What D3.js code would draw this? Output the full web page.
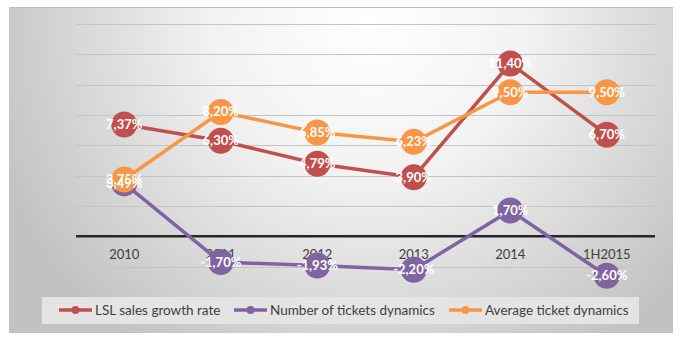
<!DOCTYPE html>
<html>
<head>
<meta charset="utf-8">
<script src="https://cdn.jsdelivr.net/npm/d3@7"></script>
<style>
  body { margin: 0; background: #fff; }
  text { font-family: Lato, "Open Sans", sans-serif; }
</style>
</head>
<body>
<script>
let width = 696,
    height = 350;

let categories = ["2010", "2011", "2012", "2013", "2014", "1H2015"];
let lslSales = [7.37, 6.30, 4.79, 3.90, 11.40, 6.70];
let ticketsCount = [3.49, -1.70, -1.93, -2.20, 1.70, -2.60];
let avgTicket = [3.75, 8.20, 6.85, 6.23, 9.50, 9.50];
let yTicks = [-4, -2, 0, 2, 4, 6, 8, 10, 12, 14];

let series = [
  { name: "LSL sales growth rate", values: lslSales, color: "#c0504d" },
  { name: "Number of tickets dynamics", values: ticketsCount, color: "#8064a2" },
  { name: "Average ticket dynamics", values: avgTicket, color: "#f79646" }
];

let svg = d3.select("body")
    .append("svg")
    .attr("width", width)
    .attr("height", height);

// background gradient
let defs = svg.append("defs");
let grad = defs.append("radialGradient")
    .attr("id", "bg")
    .attr("gradientUnits", "userSpaceOnUse")
    .attr("cx", 370).attr("cy", 20)
    .attr("r", 400);
grad.append("stop").attr("offset", "0%").attr("stop-color", "#ffffff");
grad.append("stop").attr("offset", "40%").attr("stop-color", "#f2f2f2");
grad.append("stop").attr("offset", "100%").attr("stop-color", "#c2c2c2");

svg.append("rect")
    .attr("x", 9).attr("y", 7)
    .attr("width", 664).attr("height", 326)
    .attr("fill", "url(#bg)");
svg.append("line")
    .attr("x1", 9).attr("x2", 673)
    .attr("y1", 7.5).attr("y2", 7.5)
    .attr("stroke", "#bfbfbf");

let x = d3.scaleBand()
    .domain(categories)
    .range([76, 655]);

let y = d3.scaleLinear()
    .domain([-4, 14])
    .range([297, 24]);

// gridlines
svg.append("g")
    .selectAll("line")
    .data(yTicks.filter(d => d !== 0))
    .enter()
    .append("line")
    .attr("x1", 76).attr("x2", 655)
    .attr("y1", d => Math.round(y(d)) + 0.5)
    .attr("y2", d => Math.round(y(d)) + 0.5)
    .attr("stroke", "#c4c4c4")
    .attr("stroke-width", 1);

// zero axis
svg.append("line")
    .attr("x1", 76).attr("x2", 655)
    .attr("y1", y(0)).attr("y2", y(0))
    .attr("stroke", "#262626")
    .attr("stroke-width", 2.5);

// category labels
svg.append("g")
    .selectAll("text")
    .data(categories)
    .enter()
    .append("text")
    .attr("x", d => x(d) + x.bandwidth() / 2)
    .attr("y", y(0) + 23)
    .attr("text-anchor", "middle")
    .style("font-size", "13px")
    .attr("fill", "#404040")
    .text(d => d);

// legend
let legend = svg.append("g");
legend.append("rect")
    .attr("x", 42).attr("y", 297)
    .attr("width", 597).attr("height", 27)
    .attr("fill", "#e4e4e4");

let legendX = [59, 234, 449];
series.forEach((s, i) => {
  let g = legend.append("g").attr("transform", "translate(" + legendX[i] + ",310)");
  g.append("line")
    .attr("x1", 0).attr("x2", 33)
    .attr("stroke", s.color)
    .attr("stroke-width", 3.5);
  g.append("circle")
    .attr("cx", 16.5).attr("r", 4)
    .attr("fill", s.color);
  g.append("text")
    .attr("x", 36).attr("y", 5)
    .style("font-size", "13.5px")
    .attr("fill", "#404040")
    .text(s.name);
});

let line = d3.line()
    .x((d, i) => x(categories[i]) + x.bandwidth() / 2)
    .y(d => y(d));

series.forEach(s => {
  let g = svg.append("g");
  g.append("path")
    .datum(s.values)
    .attr("d", line)
    .attr("fill", "none")
    .attr("stroke", s.color)
    .attr("stroke-width", 3.5)
    .attr("stroke-linejoin", "round");
  g.selectAll("circle")
    .data(s.values)
    .enter()
    .append("circle")
    .attr("cx", (d, i) => x(categories[i]) + x.bandwidth() / 2)
    .attr("cy", d => y(d))
    .attr("r", 13)
    .attr("fill", s.color);
});

let fmt = d => d.toFixed(2).replace(".", ",") + "%";

series.forEach(s => {
  svg.append("g")
    .selectAll("text")
    .data(s.values)
    .enter()
    .append("text")
    .attr("x", (d, i) => x(categories[i]) + x.bandwidth() / 2)
    .attr("y", d => y(d) + 4.5)
    .attr("text-anchor", "middle")
    .style("font-size", "13px")
    .style("font-weight", "bold")
    .attr("fill", "#ffffff")
    .text(d => fmt(d));
});
</script>
</body>
</html>
